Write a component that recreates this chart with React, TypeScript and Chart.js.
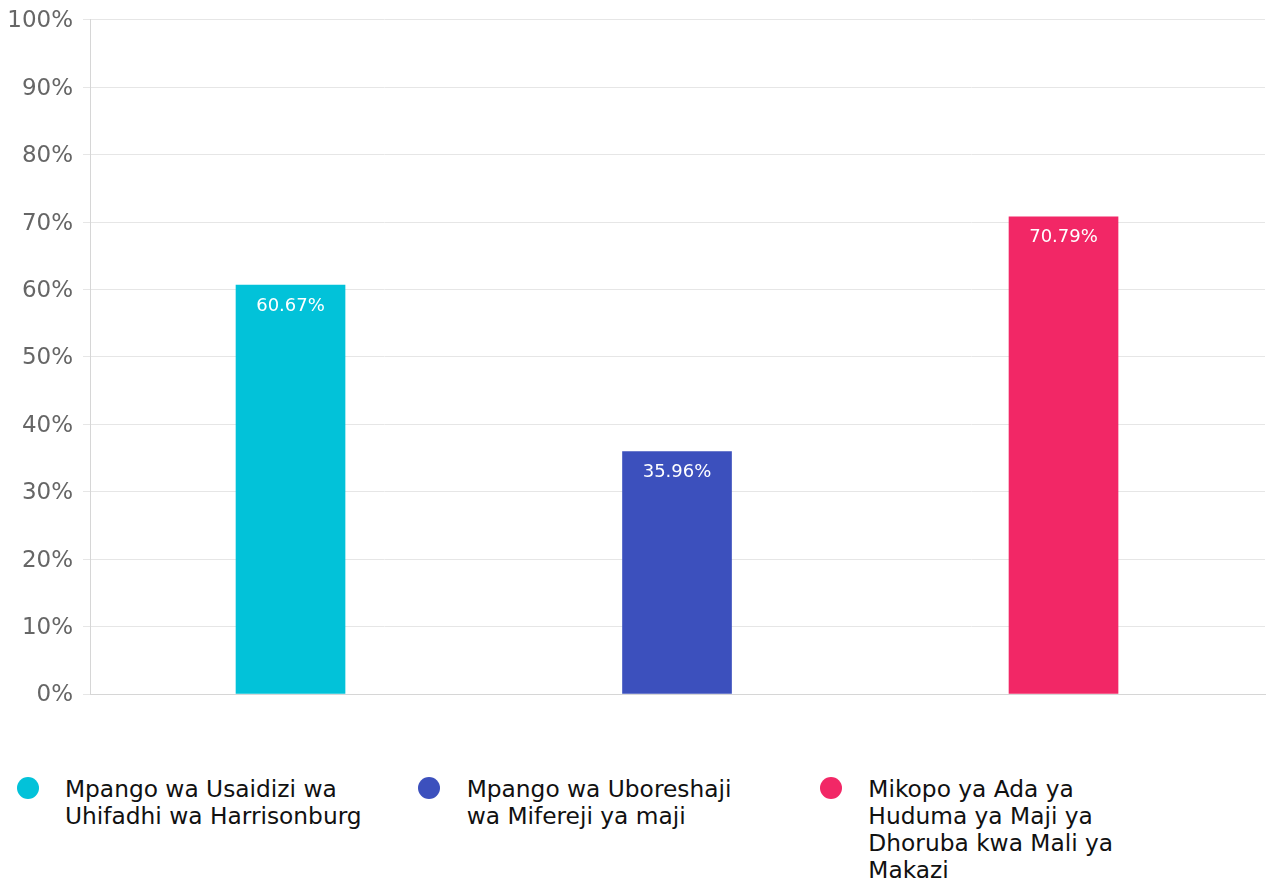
import React, { useEffect, useRef } from "react";
import { Chart, registerables } from "chart.js";

Chart.register(...registerables);

const categories = [
  "Mpango wa Usaidizi wa Uhifadhi wa Harrisonburg",
  "Mpango wa Uboreshaji wa Mifereji ya maji",
  "Mikopo ya Ada ya Huduma ya Maji ya Dhoruba kwa Mali ya Makazi",
];
const values = [60.67, 35.96, 70.79];
const colors = ["#02c2d9", "#3c50bd", "#f22766"];
const yTicks = [0, 10, 20, 30, 40, 50, 60, 70, 80, 90, 100];

const FONT = "'DejaVu Sans', sans-serif";

const valueLabels = {
  id: "valueLabels",
  afterDatasetsDraw(chart: any) {
    const { ctx } = chart;
    const meta = chart.getDatasetMeta(0);
    ctx.save();
    ctx.fillStyle = "#ffffff";
    ctx.font = `18px ${FONT}`;
    ctx.textAlign = "center";
    ctx.textBaseline = "middle";
    meta.data.forEach((bar: any, i: number) => {
      ctx.fillText(values[i].toFixed(2) + "%", bar.x, bar.y + 21);
    });
    ctx.restore();
  },
};

export default function App() {
  const ref = useRef<HTMLCanvasElement>(null);
  useEffect(() => {
    if (!ref.current) return;
    const chart = new Chart(ref.current, {
      type: "bar",
      data: {
        datasets: [
          {
            data: values.map((v, i) => ({ x: i, y: v })),
            backgroundColor: colors,
            barThickness: 109,
            borderWidth: 0,
          },
        ],
      },
      options: {
        animation: false,
        responsive: true,
        maintainAspectRatio: false,
        layout: { padding: { top: 0, right: 1, bottom: 26, left: 0 } },
        plugins: { legend: { display: false }, tooltip: { enabled: false } },
        scales: {
          x: {
            type: "linear",
            offset: false,
            min: -0.5188,
            max: 2.5213,
            ticks: { display: false },
            grid: { display: false },
            border: { display: true, color: "#d6d6d6", width: 1 },
            afterFit: (s: any) => {
              s.height = 0;
            },
          },
          y: {
            min: 0,
            max: 100,
            afterBuildTicks: (s: any) => {
              s.ticks = yTicks.map((v) => ({ value: v }));
            },
            ticks: {
              callback: (v: any) => v + "%",
              color: "#666666",
              font: { family: FONT, size: 23 },
              padding: 10,
              labelOffset: 1.5,
            },
            grid: { color: "#e6e6e6", tickLength: 7 },
            border: { display: true, color: "#d6d6d6" },
            afterFit: (s: any) => {
              s.width = 90;
            },
          },
        },
      },
      plugins: [valueLabels],
    });
    return () => chart.destroy();
  }, []);

  return (
    <div>
      <div style={{ position: "absolute", left: 0, top: -4, width: 1266, height: 724 }}>
        <canvas ref={ref} />
      </div>
      <div
        style={{
          position: "absolute",
          left: 8,
          top: 775,
          display: "flex",
          fontFamily: FONT,
          fontSize: 23.3,
          lineHeight: "27px",
          color: "#111111",
        }}
      >
        {categories.map((c, i) => (
          <div key={i} style={{ width: 401.7, display: "flex", alignItems: "flex-start" }}>
            <div
              style={{
                width: 22,
                height: 22,
                borderRadius: "50%",
                background: colors[i],
                marginLeft: 8.7,
                marginTop: 2,
                flex: "0 0 auto",
              }}
            />
            <div style={{ marginLeft: 26.3, width: 300 }}>{c}</div>
          </div>
        ))}
      </div>
    </div>
  );
}
